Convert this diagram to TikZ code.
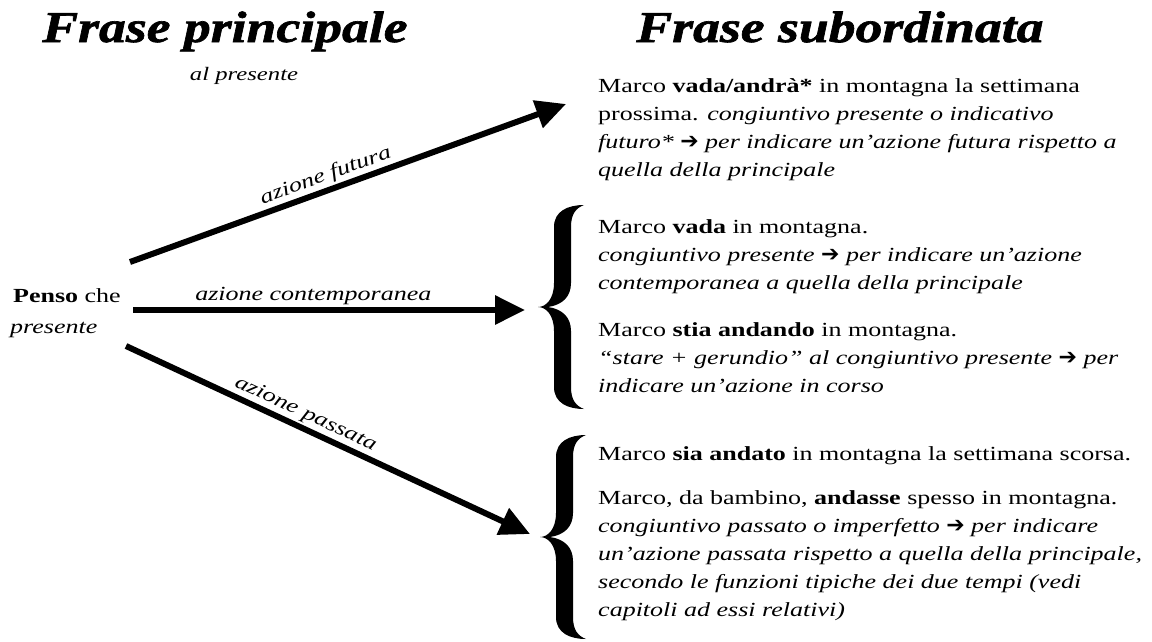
\documentclass[tikz,border=0pt]{standalone}
\usepackage{fontspec}
\setmainfont{Liberation Serif}[FakeStretch=1.3]
\newfontfamily\titlefont{Liberation Serif}[FakeStretch=1.22,FakeBold=1.5]
\newfontfamily\symfont{DejaVu Sans}
\usetikzlibrary{arrows.meta}
\newcommand\arr{{\symfont\upshape\bfseries\fontsize{22}{22}\selectfont ➔}}
\newcommand\textblk[1]{\parbox[t]{580pt}{\fontsize{20}{28}\selectfont\raggedright #1}}
\tikzset{
  calbrace/.pic={
    \fill (46,-102) .. controls (30,-102) and (16,-96) .. (16,-80) -- (16,-24)
      .. controls (16,-8) and (8,0) .. (0,0)
      .. controls (8,0) and (16,8) .. (16,24) -- (16,80)
      .. controls (16,96) and (30,102) .. (46,102)
      .. controls (38,99) and (33,93) .. (33,80) -- (33,24)
      .. controls (33,10) and (24,2) .. (10,0)
      .. controls (24,-2) and (33,-10) .. (33,-24) -- (33,-80)
      .. controls (33,-93) and (38,-99) .. (46,-102) -- cycle;
  }
}
\begin{document}
\begin{tikzpicture}[x=1pt,y=-1pt,
  title/.style={anchor=base, inner sep=0pt, font=\titlefont\bfseries\itshape\fontsize{44}{50}\selectfont},
  body/.style={anchor=base west, inner sep=0pt},
  lbl/.style={font=\itshape\fontsize{20}{24}\selectfont, inner sep=2pt},
  bigarrow/.style={line width=6pt, -{Triangle[length=30pt,width=28pt]}},
]
\useasboundingbox (0,0) rectangle (1152,641);

% titles
\node[title] (tp) at (225,42) {Frase principale};
\node[title] (ts) at (840,42) {Frase subordinata};
\node[anchor=base, inner sep=0pt, font=\itshape\fontsize{19}{20}\selectfont] (ap) at (244,80) {al presente};

% main clause
\node[body, font=\fontsize{20}{24}\selectfont] (pc) at (13,302) {\textbf{Penso} che};
\node[body, font=\itshape\fontsize{20}{24}\selectfont] (pr) at (10,333) {presente};

% arrow end points
\coordinate (fs) at (130,262);
\coordinate (fe) at (566,104);
\coordinate (cs) at (133,310);
\coordinate (ce) at (525,310);
\coordinate (ps) at (126,346);
\coordinate (pe) at (530,534);

\draw[bigarrow] (fs) -- node[lbl, pos=0.46, above, sloped] (lf) {azione futura} (fe);
\draw[bigarrow] (cs) -- node[lbl, pos=0.46, above] (lc) {azione contemporanea} (ce);
\draw[bigarrow] (ps) -- node[lbl, pos=0.43, above, sloped] (lp) {azione passata} (pe);

% braces
\pic at (538,307) {calbrace};
\pic at (540,537) {calbrace};

% subordinate clauses
\node[body] (b1) at (598,92) {\textblk{Marco \textbf{vada/andrà*} in montagna la settimana\\
prossima. \textit{congiuntivo presente o indicativo}\\
\textit{futuro* \arr{} per indicare un’azione futura rispetto a}\\
\textit{quella della principale}}};

\node[body] (b2) at (598,233) {\textblk{Marco \textbf{vada} in montagna.\\
\textit{congiuntivo presente \arr{} per indicare un’azione}\\
\textit{contemporanea a quella della principale}}};

\node[body] (b3) at (598,336) {\textblk{Marco \textbf{stia andando} in montagna.\\
\textit{“stare + gerundio” al congiuntivo presente \arr{} per}\\
\textit{indicare un’azione in corso}}};

\node[body] (b4) at (598,460) {\textblk{Marco \textbf{sia andato} in montagna la settimana scorsa.\\[16pt]
Marco, da bambino, \textbf{andasse} spesso in montagna.\\
\textit{congiuntivo passato o imperfetto \arr{} per indicare}\\
\textit{un’azione passata rispetto a quella della principale,}\\
\textit{secondo le funzioni tipiche dei due tempi (vedi}\\
\textit{capitoli ad essi relativi)}}};
\end{tikzpicture}
\end{document}
